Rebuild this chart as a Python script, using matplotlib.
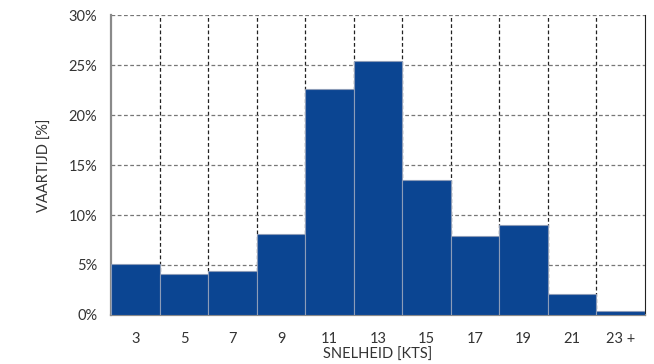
import numpy as np
import matplotlib.pyplot as plt
from matplotlib.ticker import FuncFormatter

plt.rcParams['font.family'] = ['Lato', 'DejaVu Sans']

# Data
snelheid = ["3", "5", "7", "9", "11", "13", "15", "17", "19", "21", "23 +"]
vaartijd = [5.1, 4.1, 4.4, 8.1, 22.6, 25.4, 13.5, 7.9, 9.0, 2.1, 0.4]

x = np.arange(len(snelheid))

fig, ax = plt.subplots(figsize=(6.54, 3.64), dpi=100)
fig.subplots_adjust(left=0.17, right=0.986, top=0.958, bottom=0.135)

ax.bar(x, vaartijd, width=1.0, color="#0b4592", edgecolor="#8c9cb8",
       linewidth=0.8, zorder=3)

ax.set_xlim(-0.5, len(snelheid) - 0.5)
ax.set_ylim(0, 30)
ax.set_yticks(np.arange(0, 31, 5))
ax.yaxis.set_major_formatter(FuncFormatter(lambda v, p: f"{v:.0f}%"))
ax.set_xticks(x)
ax.set_xticklabels(snelheid)
ax.set_xticks(x[:-1] + 0.5, minor=True)

ax.grid(True, axis="y", which="major", linestyle=(0, (3, 2)), color="#777777",
        linewidth=0.9, zorder=0)
ax.grid(True, axis="x", which="minor", linestyle=(0, (3, 2)), color="#222222",
        linewidth=0.9, zorder=0)
ax.grid(False, axis="x", which="major")

ax.tick_params(axis="both", which="both", length=0, labelsize=10.5,
               colors="#333333")
ax.tick_params(axis="x", pad=12)
ax.tick_params(axis="y", pad=10)

ax.spines["top"].set_visible(False)
ax.spines["left"].set_color("#8a8a8a")
ax.spines["left"].set_linewidth(1.6)
ax.spines["bottom"].set_color("#8a8a8a")
ax.spines["bottom"].set_linewidth(1.6)
ax.spines["right"].set_color("#222222")
ax.spines["right"].set_linewidth(0.8)

ax.set_xlabel("SNELHEID [KTS]", fontsize=10.5, color="#333333", labelpad=2)
ax.set_ylabel("VAARTIJD [%]", fontsize=10.5, color="#333333", labelpad=12)

plt.savefig("out.png", dpi=100)
